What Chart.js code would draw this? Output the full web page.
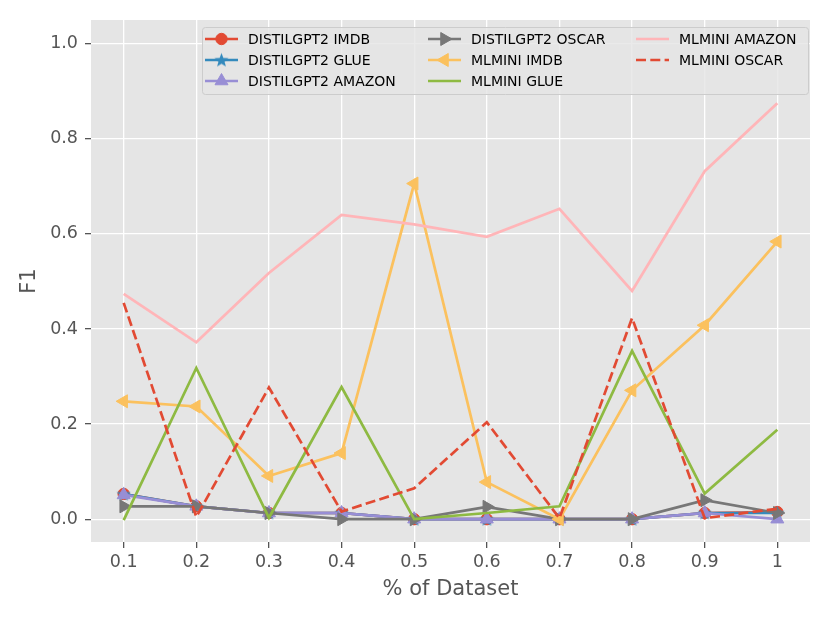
<!DOCTYPE html>
<html>
<head>
<meta charset="utf-8">
<script src="https://cdn.jsdelivr.net/npm/chart.js@4"></script>
<style>
  html, body { margin: 0; padding: 0; background: #fff; }
  #wrap { width: 830px; height: 622px; }
</style>
</head>
<body>
<div id="wrap"><canvas id="f1-chart"></canvas></div>
<script>
// ---------------------------------------------------------
// DATA
// ---------------------------------------------------------
const xValues = [0.1, 0.2, 0.3, 0.4, 0.5, 0.6, 0.7, 0.8, 0.9, 1.0];
const xTicks = [0.1, 0.2, 0.3, 0.4, 0.5, 0.6, 0.7, 0.8, 0.9, 1.0];
const yTicks = [0.0, 0.2, 0.4, 0.6, 0.8, 1.0];

const distilImdb   = [0.053, 0.027, 0.013, 0.013, 0, 0, 0, 0, 0.013, 0.015];
const distilGlue   = [0.053, 0.027, 0.013, 0.013, 0, 0, 0, 0, 0.013, 0.013];
const distilAmazon = [0.051, 0.027, 0.013, 0.013, 0, 0, 0, 0, 0.013, 0];
const distilOscar  = [0.027, 0.027, 0.013, 0, 0, 0.026, 0, 0, 0.040, 0.013];
const mlminiImdb   = [0.248, 0.237, 0.091, 0.139, 0.706, 0.078, 0, 0.271, 0.408, 0.584];
const mlminiGlue   = [-0.002, 0.318, 0.003, 0.278, 0, 0.013, 0.027, 0.354, 0.054, 0.188];
const mlminiAmazon = [0.474, 0.372, 0.518, 0.640, 0.620, 0.594, 0.653, 0.480, 0.732, 0.875];
const mlminiOscar  = [0.455, 0.005, 0.277, 0.016, 0.065, 0.204, 0.002, 0.423, 0.002, 0.022];

const seriesLabels = [
    "DISTILGPT2 IMDB", "DISTILGPT2 GLUE", "DISTILGPT2 AMAZON", "DISTILGPT2 OSCAR",
    "MLMINI IMDB", "MLMINI GLUE", "MLMINI AMAZON", "MLMINI OSCAR"
];

(function () {
    "use strict";

    const FONT = "'DejaVu Sans', sans-serif";
    const LW = 2.7;
    const DASH = [10, 4.3];

    // filled 5-point star like matplotlib '*'
    function starCanvas(color, r) {
        const c = document.createElement("canvas");
        const s = Math.ceil(r * 2 + 4);
        c.width = s; c.height = s;
        const g = c.getContext("2d");
        g.translate(s / 2, s / 2 + 0.5);
        g.beginPath();
        for (let i = 0; i < 10; i++) {
            const rad = i % 2 === 0 ? r : r * 0.42;
            const a = -Math.PI / 2 + i * Math.PI / 5;
            g.lineTo(Math.cos(a) * rad, Math.sin(a) * rad);
        }
        g.closePath();
        g.fillStyle = color;
        g.fill();
        return c;
    }

    const blueStar = starCanvas("#348ABD", 7.5);

    function line(label, values, color, opts) {
        return Object.assign({
            label: label,
            data: values.map((v, i) => ({ x: xValues[i], y: v })),
            borderColor: color,
            backgroundColor: color,
            pointBackgroundColor: color,
            pointBorderColor: color,
            pointBorderWidth: 1,
            borderWidth: LW,
            tension: 0,
            fill: false,
            pointRadius: 0,
            pointHoverRadius: 0,
        }, opts || {});
    }

    const datasets = [
        line(seriesLabels[0], distilImdb, "#E24A33", { pointStyle: "circle", pointRadius: 5.7 }),
        line(seriesLabels[1], distilGlue, "#348ABD", { pointStyle: blueStar, pointRadius: 6 }),
        line(seriesLabels[2], distilAmazon, "#988ED5", { pointStyle: "triangle", pointRadius: 7.5 }),
        line(seriesLabels[3], distilOscar, "#777777", { pointStyle: "triangle", pointRotation: 90, pointRadius: 7.5 }),
        line(seriesLabels[4], mlminiImdb, "#FBC15E", { pointStyle: "triangle", pointRotation: -90, pointRadius: 7.5 }),
        line(seriesLabels[5], mlminiGlue, "#8EBA42"),
        line(seriesLabels[6], mlminiAmazon, "#FFB5B8"),
        line(seriesLabels[7], mlminiOscar, "#E24A33", { borderDash: DASH }),
    ];
    // later series drawn on top, as in the source plot
    datasets.forEach((d, i) => { d.order = datasets.length - i; });

    // ---------------------------------------------------------
    // Plot background + legend plugins
    // ---------------------------------------------------------
    const panelBg = {
        id: "panelBg",
        beforeDraw(chart) {
            const { ctx, chartArea: a } = chart;
            ctx.save();
            ctx.fillStyle = "#E5E5E5";
            ctx.fillRect(a.left, a.top, a.right - a.left, a.bottom - a.top);
            ctx.restore();
        },
    };

    const boxLegend = {
        id: "boxLegend",
        afterDraw(chart) {
            const ctx = chart.ctx;
            const box = { x: 202.5, y: 27.5, w: 606, h: 67 };
            const cols = [205, 428, 636];
            const rows = [39, 60, 81];
            const lineLen = 33;

            ctx.save();
            ctx.beginPath();
            ctx.roundRect(box.x, box.y, box.w, box.h, 3);
            ctx.fillStyle = "rgba(229,229,229,0.8)";
            ctx.fill();
            ctx.strokeStyle = "#CCCCCC";
            ctx.lineWidth = 1;
            ctx.stroke();

            ctx.font = "14px " + FONT;
            ctx.textBaseline = "middle";
            ctx.textAlign = "left";

            chart.data.datasets.forEach((ds, i) => {
                const cx = cols[Math.floor(i / 3)];
                const cy = rows[i % 3];

                ctx.save();
                ctx.strokeStyle = ds.borderColor;
                ctx.lineWidth = LW;
                ctx.setLineDash(ds.borderDash || []);
                ctx.beginPath();
                ctx.moveTo(cx, cy);
                ctx.lineTo(cx + lineLen, cy);
                ctx.stroke();
                ctx.restore();

                if (ds.pointRadius > 0) {
                    ctx.save();
                    ctx.fillStyle = ds.pointBackgroundColor;
                    ctx.strokeStyle = ds.pointBorderColor;
                    ctx.lineWidth = 1;
                    Chart.helpers.drawPoint(ctx, {
                        pointStyle: ds.pointStyle,
                        rotation: ds.pointRotation || 0,
                        radius: ds.pointRadius,
                        borderWidth: 1,
                    }, cx + lineLen / 2, cy);
                    ctx.restore();
                }

                ctx.fillStyle = "#000";
                ctx.fillText(ds.label, cx + 43, cy + 1);
            });
            ctx.restore();
        },
    };

    // ---------------------------------------------------------
    // Chart
    // ---------------------------------------------------------
    const tickFont = { family: FONT, size: 17.5 };
    const titleFont = { family: FONT, size: 21 };

    new Chart(document.getElementById("f1-chart"), {
        type: "line",
        data: { datasets: datasets },
        options: {
            responsive: true,
            maintainAspectRatio: false,
            animation: false,
            events: [],
            layout: { padding: { top: 20, right: 20, left: 0, bottom: 0 } },
            plugins: {
                legend: { display: false },
                tooltip: { enabled: false },
            },
            scales: {
                x: {
                    type: "linear",
                    min: 0.055,
                    max: 1.045,
                    afterBuildTicks(s) { s.ticks = xTicks.map((v) => ({ value: v })); },
                    afterFit(s) { s.height = 80; },
                    ticks: {
                        color: "#555555",
                        font: tickFont,
                        padding: 4,
                        maxRotation: 0,
                        autoSkip: false,
                        callback: (v) => (v === 1 ? "1" : v.toFixed(1)),
                    },
                    grid: {
                        color: "#FFFFFF",
                        lineWidth: 1.3,
                        tickColor: "#555555",
                        tickLength: 6,
                        tickWidth: 1.3,
                    },
                    border: { display: false },
                    title: {
                        display: true,
                        text: "% of Dataset",
                        color: "#555555",
                        font: titleFont,
                        padding: { top: 0, bottom: 20 },
                    },
                },
                y: {
                    min: -0.048,
                    max: 1.05,
                    afterBuildTicks(s) { s.ticks = yTicks.map((v) => ({ value: v })); },
                    afterFit(s) { s.width = 91; },
                    ticks: {
                        color: "#555555",
                        font: tickFont,
                        padding: 7,
                        callback: (v) => v.toFixed(1),
                    },
                    grid: {
                        color: "#FFFFFF",
                        lineWidth: 1.3,
                        tickColor: "#555555",
                        tickLength: 6,
                        tickWidth: 1.3,
                    },
                    border: { display: false },
                    title: {
                        display: true,
                        text: "F1",
                        color: "#555555",
                        font: titleFont,
                        padding: { top: 17, bottom: 0 },
                    },
                },
            },
        },
        plugins: [panelBg, boxLegend],
    });
})();
</script>
</body>
</html>
